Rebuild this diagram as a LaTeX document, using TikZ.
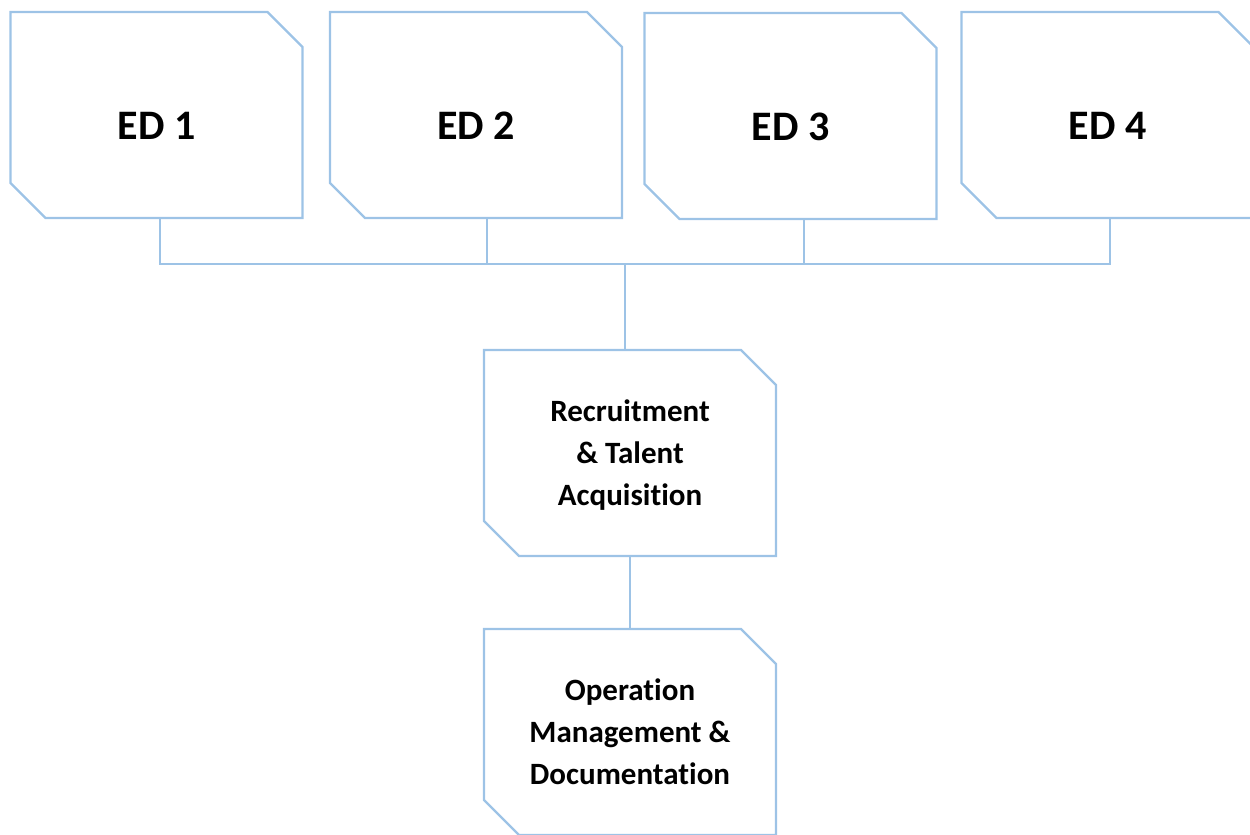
\documentclass[tikz,border=0pt]{standalone}
\usepackage{fontspec}
\setmainfont{Carlito}[Ligatures=NoCommon]

\definecolor{boxblue}{RGB}{157,195,230}

\tikzset{
  snipbox/.style={rectangle, minimum width=292pt, minimum height=206pt,
    inner sep=0pt, outer sep=0pt, align=center},
  edbox/.style={snipbox, font=\fontsize{42}{50}\selectfont\bfseries,
    text height=48pt, text depth=0pt},
  unitbox/.style={snipbox, font=\fontsize{31}{42}\selectfont\bfseries,
    text depth=0pt},
  boxline/.style={draw=boxblue, line width=2.2pt, line join=miter},
  link/.style={draw=boxblue, line width=1.3pt}
}

% outline with the north east and south west corners cut off
\newcommand\snipoutline[1]{%
  \draw[boxline] (#1.north west) -- ([xshift=-35pt]#1.north east)
    -- ([yshift=-35pt]#1.north east) -- (#1.south east)
    -- ([xshift=35pt]#1.south west) -- ([yshift=35pt]#1.south west) -- cycle;}

\begin{document}
\begin{tikzpicture}[x=1pt,y=-1pt]

\clip (0,0) rectangle (1250,835);

% top row
\node[edbox] (ed1) at (156.5,115) {ED 1};
\node[edbox] (ed2) at (476,115) {ED 2};
\node[edbox] (ed3) at (790.5,116) {ED 3};
\node[edbox] (ed4) at (1107.5,115) {ED 4};

% units
\node[unitbox] (rta) at (630,453) {Recruitment\\ \& Talent\\ Acquisition};
\node[unitbox] (ops) at (630,732) {Operation\\ Management \&\\ Documentation};

\snipoutline{ed1}
\snipoutline{ed2}
\snipoutline{ed3}
\snipoutline{ed4}
\snipoutline{rta}
\snipoutline{ops}

\coordinate (hub) at (625,264);

\draw[link] ([xshift=3.5pt]ed1.south) |- (hub); %1
\draw[link] ([xshift=11pt]ed2.south) |- (hub); %2
\draw[link] ([xshift=13.5pt]ed3.south) |- (hub); %3
\draw[link] ([xshift=2.5pt]ed4.south) |- (hub); %4
\draw[link] (hub) -- (hub |- rta.north);
\draw[link] (rta) -- (ops);

\end{tikzpicture}
\end{document}
